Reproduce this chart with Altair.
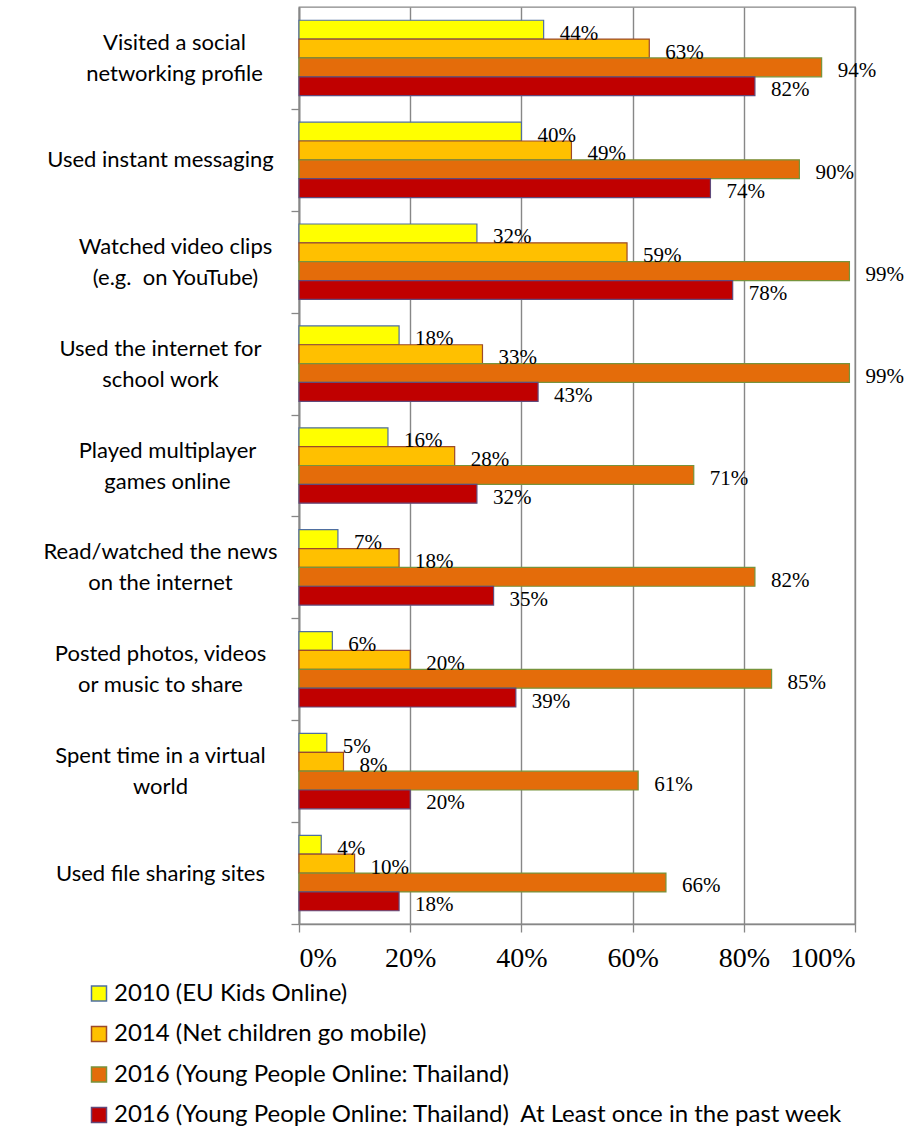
import altair as alt
import pandas as pd

categories = [
    "Visited a social|networking profile",
    "Used instant messaging",
    "Watched video clips|(e.g.  on YouTube)",
    "Used the internet for|school work",
    "Played multiplayer|games online",
    "Read/watched the news|on the internet",
    "Posted photos, videos|or music to share",
    "Spent time in a virtual|world",
    "Used file sharing sites",
]
series = [
    "2010 (EU Kids Online)",
    "2014 (Net children go mobile)",
    "2016 (Young People Online: Thailand)",
    "2016 (Young People Online: Thailand)  At Least once in the past week",
]
v2010 = [44, 40, 32, 18, 16, 7, 6, 5, 4]
v2014 = [63, 49, 59, 33, 28, 18, 20, 8, 10]
v2016 = [94, 90, 99, 99, 71, 82, 85, 61, 66]
v2016w = [82, 74, 78, 43, 32, 35, 39, 20, 18]

fills = ["#FFFF00", "#FFC000", "#E46C0A", "#C00000"]
strokes = ["#4F6FA0", "#9C4A2A", "#77933C", "#604A7B"]

rows = []
for vals, s in zip([v2010, v2014, v2016, v2016w], series):
    for c, v in zip(categories, vals):
        rows.append({"category": c, "series": s, "value": v})
df = pd.DataFrame(rows)
df["label"] = df["value"].astype(str) + "%"

GRAY = "#878787"
HALF = 917 / 9 / 2

leg = alt.Legend(
    title=None, orient="none", legendX=-212, legendY=974.5, direction="vertical",
    symbolType="square", symbolSize=225, symbolStrokeWidth=1.5,
    labelFont="Lato", labelFontSize=24, labelColor="black",
    rowPadding=16.5, labelOffset=3, labelLimit=0,
    labelExpr="replace(datum.label, ')  At', ')\u00a0 At')",
)

pad_cond = {
    "condition": [
        {"test": f"datum.value == '{categories[0]}'", "value": 117},
        {"test": f"datum.value == '{categories[2]}'", "value": 116},
        {"test": f"datum.value == '{categories[4]}'", "value": 124},
    ],
    "value": 131,
}
off_cond = {
    "condition": {"test": "indexof(datum.value, '|') >= 0", "value": -HALF - 15.5},
    "value": -HALF,
}

y_enc = alt.Y(
    "category:N", sort=categories, title=None,
    scale=alt.Scale(paddingInner=0.26, paddingOuter=0.13),
    axis=alt.Axis(
        labelExpr="split(replace(datum.label, '.  on', '.\u00a0 on'), '|')",
        labelAlign="center", labelBaseline="middle",
        labelPadding=pad_cond, labelOffset=off_cond, tickOffset=HALF,
        labelFont="Lato", labelFontSize=22, labelColor="black",
        labelLineHeight=31, tickSize=8, tickColor=GRAY, tickWidth=1.3,
        domainColor=GRAY, domainWidth=1.8, grid=False, labelLimit=0,
    ),
)
yoff = alt.YOffset("series:N", sort=series, scale=alt.Scale(paddingInner=0, paddingOuter=0))

x_enc = alt.X(
    "value:Q", title=None,
    scale=alt.Scale(domain=[0, 100], nice=False),
    axis=alt.Axis(
        values=[0, 20, 40, 60, 80, 100], labelExpr="datum.value + '%'",
        labelFont="Liberation Serif", labelFontSize=28, labelColor="black",
        labelBaseline="top", labelPadding=12, tickSize=8, tickColor=GRAY, tickWidth=1.3,
        domainColor=GRAY, domainWidth=1.3, grid=True, gridColor=GRAY, gridWidth=1.4,
    ),
)

bars = alt.Chart(df).mark_bar(strokeWidth=1.2).encode(
    y=y_enc, yOffset=yoff, x=x_enc,
    fill=alt.Fill("series:N", sort=series, scale=alt.Scale(domain=series, range=fills), legend=leg),
    stroke=alt.Stroke("series:N", sort=series, scale=alt.Scale(domain=series, range=strokes), legend=leg),
)

labels = alt.Chart(df).mark_text(
    align="left", baseline="middle", dx=16, dy=4,
    font="Liberation Serif", fontSize=21, color="black",
).encode(y=y_enc, yOffset=yoff, x=x_enc, text="label:N")

chart = alt.layer(bars, labels).properties(
    width=556, height=917,
    autosize=alt.AutoSizeParams(type="none"),
    padding={"left": 299, "top": 7, "right": 56, "bottom": 205},
).configure_view(stroke=GRAY, strokeWidth=1.3)

chart.save("out.html", embed_options={"renderer": "svg", "actions": False})
